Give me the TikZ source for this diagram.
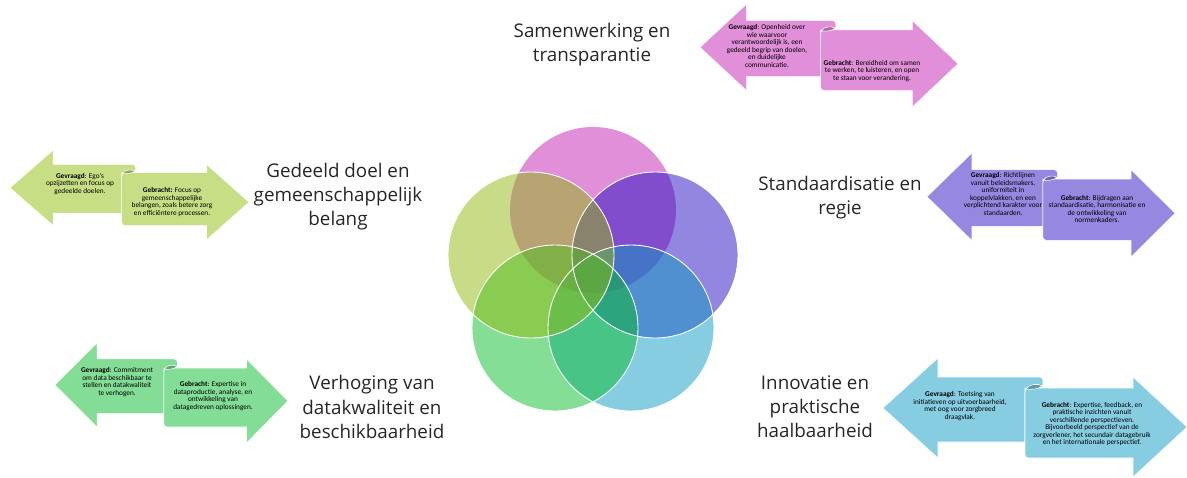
\documentclass[tikz,border=0pt]{standalone}
\usepackage{fontspec}
\setmainfont{Carlito}
\newfontfamily\labelfont{Open Sans}
\usepackage{tikz}
\usetikzlibrary{positioning}
% pijlkleuren
\definecolor{pinkA}{RGB}{224,143,216}
\definecolor{ygA}{RGB}{200,222,132}
\definecolor{purA}{RGB}{150,136,225}
\definecolor{greenA}{RGB}{132,221,150}
\definecolor{blueA}{RGB}{135,205,225}
% cirkelkleuren (half doorzichtig)
\definecolor{pinkC}{RGB}{193,31,177}
\definecolor{ygC}{RGB}{145,185,15}
\definecolor{purC}{RGB}{37,13,193}
\definecolor{greenC}{RGB}{11,189,45}
\definecolor{blueC}{RGB}{15,155,195}
\tikzset{
  lbl/.style = {align=center, inner sep=0pt, text=black!85,
    font=\labelfont\fontsize{10.7}{13.7}\selectfont},
  arrtxt/.style = {align=center, inner sep=0pt, text=black,
    font=\fontsize{4.15}{4.25}\selectfont},
  venn/.style = {fill=#1, fill opacity=0.5},
  rim/.style = {draw=white, line width=0.5pt},
  arrowpair/.pic = {
    % linker pijl
    \fill[#1, draw=white, line width=0.3pt] (0,50) -- (55,0) -- (55,19)
      [rounded corners=2pt] -- (160,19) -- (160,30) [sharp corners]
      -- (142,30) -- (142,84) -- (55,84) -- (55,100) -- cycle;
    % rechter pijl
    \fill[#1, draw=white, line width=0.3pt] (250,30) [rounded corners=2pt]
      -- (142,30) -- (142,100) [sharp corners] -- (250,100) -- (250,119)
      -- (304,69) -- (250,19) -- cycle;
    % omslag
    \fill[#1!75!black, draw=white, line width=0.3pt] (143,31)
      .. controls (145,26) and (156,25) .. (159,28)
      .. controls (156,31) and (148,32) .. (143,31) -- cycle;
  }
}

\begin{document}
\begin{tikzpicture}[x=0.02cm, y=-0.02cm]
\useasboundingbox (0,0) rectangle (1187,477);

% cirkels
\foreach \col/\cx/\cy in {pinkC/593/210, purC/655/255, blueC/631/328, greenC/555/328, ygC/531/255}
  \fill[venn=\col] (\cx,\cy) circle [radius=83];
\foreach \cx/\cy in {531/255, 655/255, 631/328, 555/328}
  \draw[rim] (\cx,\cy) circle [radius=83];

% pijlen
\pic[shift={(700,4)}, xscale=0.849, yscale=0.866] {arrowpair=pinkA};
\pic[shift={(10,150)}, xscale=0.786, yscale=0.756] {arrowpair=ygA};
\pic[shift={(927,153)}, xscale=0.816, yscale=0.874] {arrowpair=purA};
\pic[shift={(55,343)}, xscale=0.766, yscale=0.840] {arrowpair=greenA};
\pic[shift={(883,358)}] {arrowpair=blueA};

% thema's
\node[lbl] (samen) at (592,45) {Samenwerking en\\transparantie};
\node[lbl] (gedeeld) at (338,197) {Gedeeld doel en\\gemeenschappelijk\\belang};
\node[lbl] (standaard) at (840,198) {Standaardisatie en\\regie};
\node[lbl] (verhoging) at (372,407) {Verhoging van\\datakwaliteit en\\beschikbaarheid};
\node[lbl] (innovatie) at (815,407) {Innovatie en\\praktische\\haalbaarheid};

% teksten in de pijlen
\node[arrtxt] (samenask) at (767,46) {\textbf{Gevraagd}: Openheid over\\wie waarvoor\\verantwoordelijk is, een\\gedeeld begrip van doelen,\\en duidelijke\\communicatie.};
\node[arrtxt] (samengive) at (872,71) {\textbf{Gebracht}: Bereidheid om samen\\te werken, te luisteren, en open\\te staan voor verandering.};
\node[arrtxt] (gedeeldask) at (80,184) {\textbf{Gevraagd}: Ego's\\opzijzetten en focus op\\gedeelde doelen.};
\node[arrtxt] (gedeeldgive) at (172,202) {\textbf{Gebracht:} Focus op\\gemeenschappelijke\\belangen, zoals betere zorg\\en efficiëntere processen.};
\node[arrtxt] (standaardask) at (1003,194) {\textbf{Gevraagd}: Richtlijnen\\vanuit beleidsmakers,\\uniformiteit in\\koppelvlakken, en een\\verplichtend karakter voor\\standaarden.};
\node[arrtxt] (standaardgive) at (1097,209) {\textbf{Gebracht}: Bijdragen aan\\standaardisatie, harmonisatie en\\de ontwikkeling van\\normenkaders.};
\node[arrtxt] (verhogingask) at (117,382) {\textbf{Gevraagd}: Commitment\\om data beschikbaar te\\stellen en datakwaliteit\\te verhogen.};
\node[arrtxt] (verhoginggive) at (213,396) {\textbf{Gebracht}: Expertise in\\dataproductie, analyse, en\\ontwikkeling van\\datagedreven oplossingen.};
\node[arrtxt] (innovatieask) at (960,406) {\textbf{Gevraagd}: Toetsing van\\initiatieven op uitvoerbaarheid,\\met oog voor zorgbreed\\draagvlak.};
\node[arrtxt] (innovatiegive) at (1092,424) {\textbf{Gebracht}: Expertise, feedback, en\\praktische inzichten vanuit\\verschillende perspectieven.\\Bijvoorbeeld perspectief van de\\zorgverlener, het secundair datagebruik\\en het internationale perspectief.};
\end{tikzpicture}
\end{document}
